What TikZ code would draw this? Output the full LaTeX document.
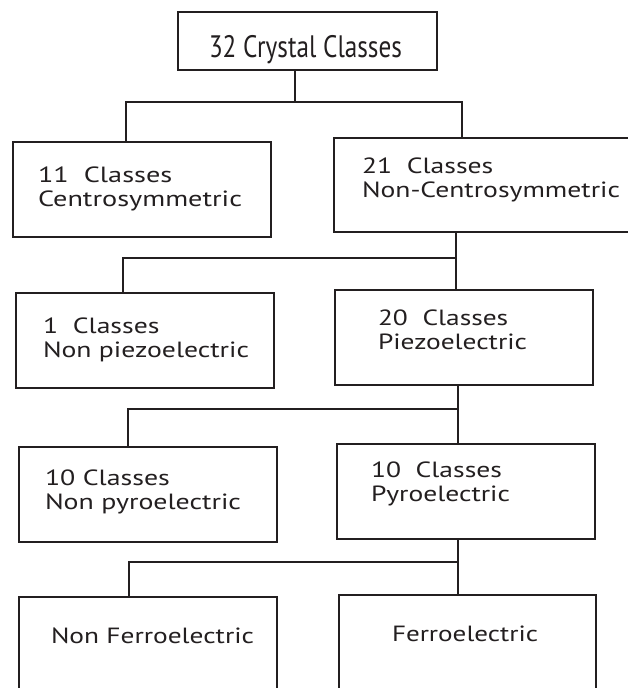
\documentclass[tikz,border=0pt]{standalone}
\usepackage{fontspec}
\setmainfont{PT Sans}
\usepackage{graphicx}
\definecolor{ink}{HTML}{231F20}
\newlength\natw
\newcommand\fitbox[2]{\settowidth\natw{#2}\scalebox{\fpeval{#1/\natw}}[1]{#2}}
\newcommand\twolines[2]{\begin{tabular}[t]{@{}l@{}}#1\\#2\end{tabular}}
\tikzset{
  box/.style={draw=ink, line width=2.6pt, rectangle, inner sep=0pt, outer sep=0pt},
  lbl/.style={anchor=base west, inner sep=0pt, outer sep=0pt, text=ink, font=\fontsize{22}{24}\selectfont},
  conn/.style={draw=ink, line width=2.6pt}
}
\begin{document}
\begin{tikzpicture}[x=1pt,y=-1pt]
\useasboundingbox (0,0) rectangle (628,688);
\fill[white] (0,0) rectangle (628,688);
\clip (0,0) rectangle (628,688);
% boxes
\node[box, minimum width=259pt, minimum height=58pt] (top) at (307.5,41) {};
\node[box, minimum width=258pt, minimum height=95pt] (A) at (142,189.5) {};
\node[box, minimum width=316pt, minimum height=94pt] (B) at (492,185) {};
\node[box, minimum width=258pt, minimum height=95pt] (C) at (145,340.5) {};
\node[box, minimum width=258pt, minimum height=95pt] (D) at (464,337.5) {};
\node[box, minimum width=258pt, minimum height=95pt] (E) at (148,494.5) {};
\node[box, minimum width=258pt, minimum height=95pt] (F) at (466,491.5) {};
\node[box, minimum width=258pt, minimum height=123pt] (G) at (148,658.5) {};
\node[box, minimum width=257pt, minimum height=125pt] (H) at (467.5,657.5) {};
% texts
\node[anchor=base, inner sep=0pt, text=ink, font=\fontsize{31}{34}\selectfont] (ttop) at (305.5,57) {\fitbox{193}{32 Crystal Classes}};
\node[lbl] (tA) at (38,182) {\fitbox{204}{\twolines{11\ \ Classes}{Centrosymmetric}}};
\node[lbl] (tB) at (362,173) {\fitbox{258}{\twolines{21\ \ Classes}{Non-Centrosymmetric}}};
\node[lbl] (tC) at (43,333) {\fitbox{206}{\twolines{1\ \ Classes}{Non piezoelectric}}};
\node[lbl] (tD) at (378,325) {\fitbox{149}{\twolines{20\ \ Classes}{Piezoelectric}}};
\node[lbl] (tE) at (45,485) {\fitbox{196}{\twolines{10 Classes}{Non pyroelectric}}};
\node[lbl] (tF) at (371,477) {\fitbox{139}{\twolines{10\ \ Classes}{Pyroelectric}}};
\node[lbl] (tG) at (51,643) {\fitbox{203}{Non Ferroelectric}};
\node[lbl] (tH) at (392,641) {\fitbox{146}{Ferroelectric}};
% connectors
\coordinate (j1) at (295,102); \coordinate (l1) at (126,102); \coordinate (r1) at (462,102);
\draw[conn] (top.south -| j1) -- (j1);
\draw[conn] (l1 |- A.north) -- (l1) -- (r1) -- (r1 |- B.north);
\coordinate (j2) at (456,258); \coordinate (l2) at (123,258);
\draw[conn] (B.south -| j2) -- (j2 |- D.north);
\draw[conn] (j2) -- (l2) -- (l2 |- C.north);
\coordinate (j3) at (458,409); \coordinate (l3) at (128,409);
\draw[conn] (D.south -| j3) -- (j3 |- F.north);
\draw[conn] (j3) -- (l3) -- (l3 |- E.north);
\coordinate (j4) at (458,562); \coordinate (l4) at (129,562);
\draw[conn] (F.south -| j4) -- (j4 |- H.north);
\draw[conn] (j4) -- (l4) -- (l4 |- G.north);
\end{tikzpicture}
\end{document}
